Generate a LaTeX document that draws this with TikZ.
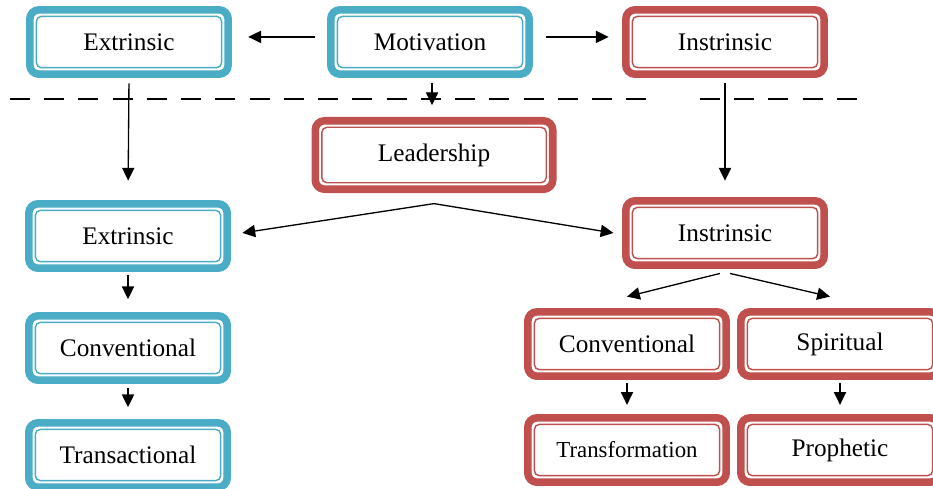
\documentclass[tikz,border=0pt]{standalone}
\usepackage{fontspec}
\setmainfont{Liberation Serif}
\usetikzlibrary{arrows.meta,positioning}
\definecolor{aqua}{HTML}{4BACC6}
\definecolor{brick}{HTML}{C0504D}

\begin{document}
\begin{tikzpicture}[
    x=0.4906pt, y=-0.4906pt,
    every node/.style={font=\fontsize{12.4}{14}\selectfont},
    box/.style={draw=#1, line width=3.7pt, rounded corners=4.5pt, fill=white, align=center,
        minimum width=97.3pt, minimum height=31.6pt, inner sep=2pt,
        path picture={\draw[#1, line width=0.7pt, rounded corners=2.5pt]
            ([shift={(3.2pt,3.2pt)}]path picture bounding box.south west) rectangle
            ([shift={(-3.2pt,-3.2pt)}]path picture bounding box.north east);}},
    flow/.style={-{Triangle[length=6.3pt,width=6pt]}, line width=0.65pt},
    split/.style={black, line width=0.7pt, dash pattern=on 9.8pt off 7pt}
]
\clip (0,0) rectangle (933,488);
\node[box=aqua] (motiv) at (430,42) {Motivation};
\node[box=aqua] (extA) at (129,42) {Extrinsic};
\node[box=brick] (intA) at (725,42) {Instrinsic};
\node[box=brick, minimum width=116.5pt, minimum height=33.6pt] (leader) at (434,155) {Leadership};
\node[box=aqua] (extB) at (128,236) {Extrinsic};
\node[box=brick] (intB) at (725,233) {Instrinsic};
\node[box=aqua] (convL) at (128,348) {Conventional};
\node[box=brick] (convR) at (627,344) {Conventional};
\node[box=brick] (spir) at (840,344) {Spiritual};
\node[box=aqua] (trans) at (128,455) {Transactional};
\node[box=brick, font=\fontsize{11.2}{13}\selectfont] (transf) at (627,450) {Transformation};
\node[box=brick] (proph) at (840,450) {Prophetic};

\draw[split] (10,99) -- (650,99);
\draw[split] (700,99) -- (858,99);

\draw[flow, shorten <=6pt, shorten >=8pt] ([yshift=2.5pt]motiv.west) -- ([yshift=2.5pt]extA.east);
\draw[flow, shorten <=6.6pt, shorten >=6.6pt] ([yshift=2.5pt]motiv.east) -- ([yshift=2.5pt]intA.west);
\draw[flow, shorten <=2.7pt, shorten >=5.8pt] ([xshift=1pt]motiv.south) -- ([xshift=1pt]motiv.south |- leader.north);
\draw[flow, shorten <=2.7pt, shorten >=9.5pt] (extA.south) -- (extB.north);
\draw[flow, shorten <=2.7pt, shorten >=8pt] (intA.south) -- (intB.north);

\coordinate (lsplit) at ([yshift=-5.2pt]leader.south);
\draw[flow] (lsplit) -- ([shift={(5.6pt,1.5pt)}]extB.east);
\draw[flow] (lsplit) -- ([xshift=-4.2pt]intB.west);

\draw[flow] ([shift={(-2.5pt,-2.2pt)}]intB.south) -- ([yshift=5.6pt]convR.north);
\draw[flow] ([shift={(2.5pt,-2.2pt)}]intB.south) -- ([shift={(-4.9pt,5.6pt)}]spir.north);

\draw[flow, shorten <=1.7pt, shorten >=6.3pt] (extB.south) -- (convL.north);
\draw[flow, shorten <=2.2pt, shorten >=5.8pt] (convL.south) -- (trans.north);
\draw[flow, shorten <=1.7pt, shorten >=4.5pt] (convR.south) -- (transf.north);
\draw[flow, shorten <=1.7pt, shorten >=4.5pt] (spir.south) -- (proph.north);
\end{tikzpicture}
\end{document}
